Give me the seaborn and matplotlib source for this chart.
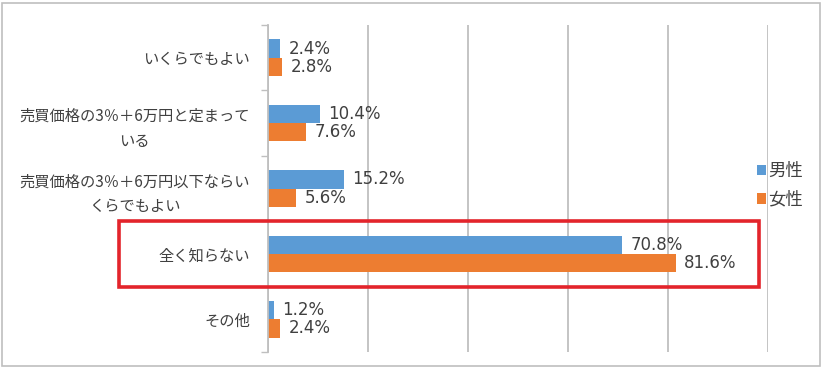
import pandas as pd
import matplotlib.pyplot as plt
import matplotlib.patches as mpatches
import matplotlib.transforms as mtransforms
import seaborn as sns

# data
categories = [
    "いくらでもよい",
    "売買価格の3％＋6万円と定まって\nいる",
    "売買価格の3％＋6万円以下ならい\nくらでもよい",
    "全く知らない",
    "その他",
]
male = [2.4, 10.4, 15.2, 70.8, 1.2]
female = [2.8, 7.6, 5.6, 81.6, 2.4]
series = ["男性", "女性"]
highlight = "全く知らない"

df = pd.DataFrame({
    "category": categories * 2,
    "value": male + female,
    "gender": [series[0]] * len(categories) + [series[1]] * len(categories),
})

sns.set_style("white")
plt.rcParams['font.family'] = ['Noto Sans CJK JP', 'DejaVu Sans']

grid_color = "#BFBFBF"
text_color = "#404040"

fig = plt.figure(figsize=(8.23, 3.69), dpi=100)
ax = fig.add_axes([268 / 823, 1 - 352 / 369, 500 / 823, 327 / 369])

sns.barplot(data=df, y="category", x="value", hue="gender", orient="h",
            palette=["#5B9BD5", "#ED7D31"], width=0.56, ax=ax,
            edgecolor="none", saturation=1)

ax.set_xlim(0, 100)
ax.set_ylim(len(categories) - 0.5, -0.5)
ax.set_xticks([0, 20, 40, 60, 80, 100])
ax.xaxis.grid(True, color=grid_color, linewidth=1.3)
ax.tick_params(axis="x", length=0, labelbottom=False)
ax.set_xlabel("")
ax.set_ylabel("")

# category labels, ticks at group boundaries
ax.set_yticks(range(len(categories)))
ax.set_yticklabels(categories, fontsize=11, color=text_color,
                   multialignment="center", linespacing=1.6)
ax.set_yticks([i - 0.5 for i in range(len(categories) + 1)], minor=True)
ax.tick_params(axis="y", which="major", length=0, pad=13)
ax.tick_params(axis="y", which="minor", length=5, width=1, color=grid_color,
               left=True)

for side in ["top", "right", "bottom"]:
    ax.spines[side].set_visible(False)
ax.spines["left"].set_color(grid_color)
ax.spines["left"].set_linewidth(1.3)

for cont in ax.containers:
    ax.bar_label(cont, fmt="%.1f%%", padding=6, fontsize=12,
                 color=text_color, family="DejaVu Sans")

leg = ax.legend(loc="center left", bbox_to_anchor=(0.96, 0.51),
                frameon=False, fontsize=12.5, handlelength=0.55,
                handleheight=0.55, handletextpad=0.1, labelspacing=0.6,
                borderpad=0)
for t in leg.get_texts():
    t.set_color(text_color)

# red box around the highlighted category
idx = categories.index(highlight)
trans = mtransforms.blended_transform_factory(fig.transFigure, ax.transData)
ax.add_patch(mpatches.Rectangle((119 / 823, idx - 0.5), (759 - 119) / 823, 1.0,
                                transform=trans, fill=False,
                                edgecolor="#E3242B", linewidth=2.6,
                                clip_on=False, zorder=5))

# outer frame
fig.patches.append(mpatches.Rectangle((2 / 823, 3 / 369), 818 / 823, 363 / 369,
                                      transform=fig.transFigure, fill=False,
                                      edgecolor="#BFBFBF", linewidth=1.2))

fig.savefig("out.png", dpi=100)
